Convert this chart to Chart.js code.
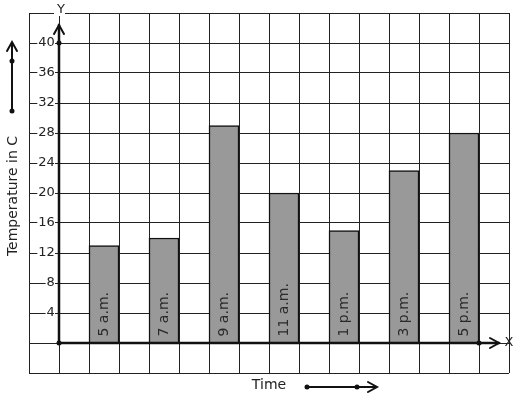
<!DOCTYPE html>
<html><head>
<script src="https://cdn.jsdelivr.net/npm/chart.js"></script>
<title>Temperature over time</title>
<style>
body {
  margin: 0;
  background: #fff;
}
#chart-container {
  width: 517px;
  height: 399px;
}
</style>
</head>
<body>
<div id="chart-container">
  <canvas id="chart"></canvas>
</div>

<script>
const times = ['5 a.m.', '7 a.m.', '9 a.m.', '11 a.m.', '1 p.m.', '3 p.m.', '5 p.m.'];
const timeSlots = [1.5, 3.5, 5.5, 7.5, 9.5, 11.5, 13.5];
const temperatures = [13, 14, 29, 20, 15, 23, 28];

const FONT = 'DejaVu Sans, sans-serif';
const INK = '#111';

function line(ctx, pts, w) {
  ctx.beginPath();
  ctx.lineWidth = w;
  ctx.moveTo(pts[0][0], pts[0][1]);
  for (let i = 1; i < pts.length; i++) ctx.lineTo(pts[i][0], pts[i][1]);
  ctx.stroke();
}

function dot(ctx, x, y) {
  ctx.beginPath();
  ctx.arc(x, y, 2.5, 0, Math.PI * 2);
  ctx.fill();
}

const decor = {
  id: 'decor',
  afterDatasetsDraw(chart) {
    const ctx = chart.ctx;
    const xs = chart.scales.x, ys = chart.scales.y;
    const ox = xs.getPixelForValue(0), oy = ys.getPixelForValue(0);
    const y40 = ys.getPixelForValue(40);
    const x14 = xs.getPixelForValue(14);
    ctx.save();
    ctx.strokeStyle = INK;
    ctx.fillStyle = INK;
    ctx.lineCap = 'round';

    // bar labels
    const meta = chart.getDatasetMeta(0);
    ctx.font = '14px ' + FONT;
    ctx.fillStyle = '#2a2a2a';
    ctx.textAlign = 'left';
    ctx.textBaseline = 'middle';
    meta.data.forEach((bar, i) => {
      ctx.save();
      ctx.translate(bar.x + 0.5, bar.base - 6);
      ctx.rotate(-Math.PI / 2);
      ctx.fillText(times[i], 0, 0);
      ctx.restore();
    });
    ctx.fillStyle = INK;

    // y axis
    line(ctx, [[ox, oy], [ox, 25]], 2.5);
    line(ctx, [[ox - 5, 34], [ox, 25], [ox + 5, 34]], 2);
    // x axis
    line(ctx, [[ox, oy], [499, oy]], 2.5);
    line(ctx, [[490, oy - 5], [499, oy], [490, oy + 5]], 2);
    dot(ctx, ox, oy);
    dot(ctx, ox, y40);
    dot(ctx, x14, oy);

    // axis letters
    ctx.font = '13px ' + FONT;
    ctx.textAlign = 'center';
    ctx.textBaseline = 'middle';
    ctx.fillStyle = '#fff';
    ctx.fillRect(ox - 5, 3, 11, 13);
    ctx.fillStyle = '#222';
    ctx.fillText('Y', ox + 2, 10);
    ctx.fillText('X', 509, oy);

    // axis titles
    ctx.font = '14px ' + FONT;
    ctx.fillText('Time', 269, 385);
    ctx.save();
    ctx.translate(13, 196);
    ctx.rotate(-Math.PI / 2);
    ctx.fillText('Temperature in C', 0, 0);
    ctx.restore();

    // side arrow
    ctx.fillStyle = INK;
    line(ctx, [[12, 111], [12, 43]], 2);
    line(ctx, [[7, 51], [12, 42], [17, 51]], 2);
    dot(ctx, 12, 111);
    dot(ctx, 12, 61);

    // bottom arrow
    line(ctx, [[307, 387], [376, 387]], 2);
    line(ctx, [[368, 382], [377, 387], [368, 392]], 2);
    dot(ctx, 307, 387);
    dot(ctx, 357, 387);

    ctx.restore();
  }
};

const labelled = v => v >= 4 && v <= 40;

const chart = new Chart(document.getElementById('chart').getContext('2d'), {
  type: 'bar',
  data: {
    datasets: [{
      data: timeSlots.map((x, i) => ({x, y: temperatures[i]})),
      backgroundColor: '#999999',
      borderColor: INK,
      borderWidth: 1.5,
      barPercentage: 1,
      categoryPercentage: 1
    }]
  },
  options: {
    responsive: true,
    maintainAspectRatio: false,
    animation: false,
    layout: {padding: {left: 29, right: 8, top: 13, bottom: 26}},
    plugins: {legend: {display: false}, tooltip: {enabled: false}},
    scales: {
      x: {
        type: 'linear',
        position: {y: 0},
        min: -1,
        max: 15,
        offset: false,
        border: {display: false},
        grid: {color: '#222', lineWidth: 1, drawTicks: false, offset: false},
        ticks: {display: false, stepSize: 1, autoSkip: false}
      },
      y: {
        type: 'linear',
        position: {x: 0},
        min: -4,
        max: 44,
        border: {display: false},
        grid: {color: '#222', lineWidth: 1, drawTicks: false},
        ticks: {
          stepSize: 4,
          autoSkip: false,
          color: '#222',
          font: {family: FONT, size: 13},
          callback: v => labelled(v) ? v + ' ' : '',
          showLabelBackdrop: true,
          backdropColor: c => labelled(c.tick.value) ? '#fff' : 'rgba(0,0,0,0)',
          backdropPadding: {top: 0, bottom: 0, left: 1, right: -4}
        }
      }
    }
  },
  plugins: [decor]
});
</script>
</body></html>
